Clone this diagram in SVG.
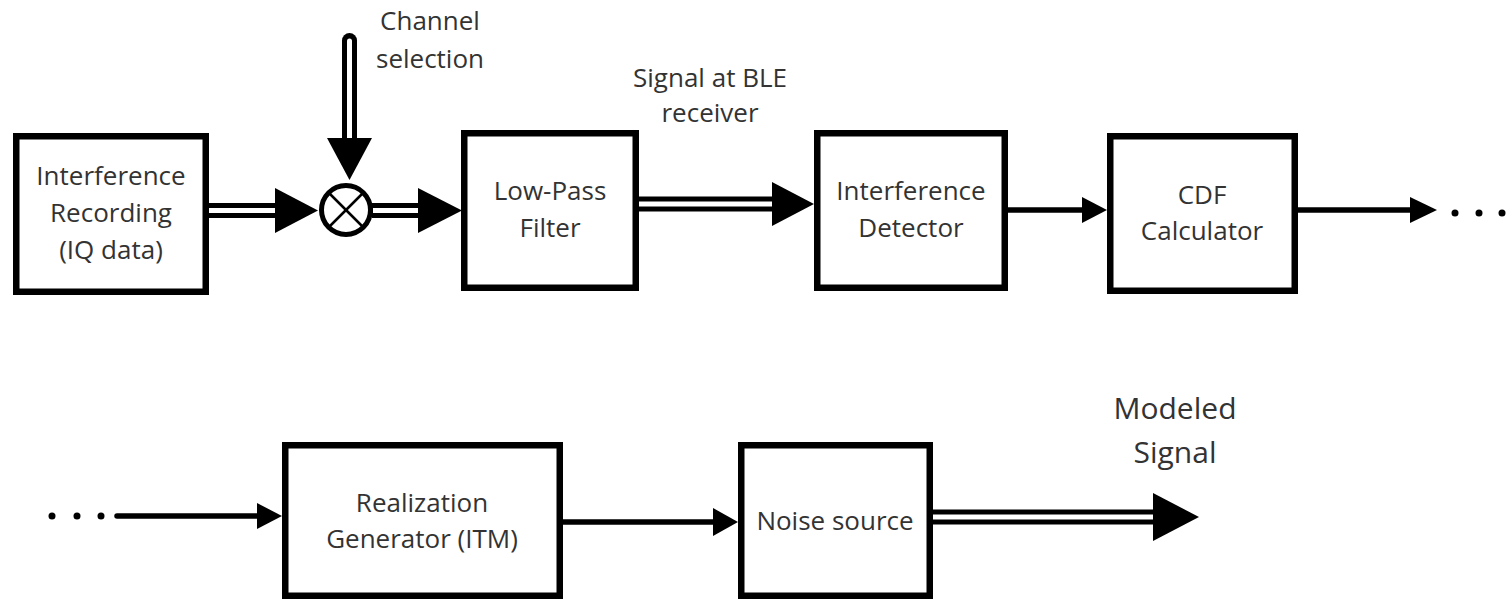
<svg xmlns="http://www.w3.org/2000/svg" width="1510" height="599" viewBox="0 0 1510 599">
  <style>
    .box { fill: #ffffff; stroke: #000000; stroke-width: 6.5; stroke-linejoin: miter; }
    .lbl { font-family: "Open Sans", "Liberation Sans", sans-serif; font-size: 26px; fill: #333333; text-anchor: middle; }
    .big { font-size: 30px; }
    .bus-outer { stroke: #000000; stroke-width: 15; fill: none; }
    .bus-inner { stroke: #ffffff; stroke-width: 5; fill: none; }
    .wire { stroke: #000000; stroke-width: 5.5; fill: none; }
    .head { fill: #000000; }
    .dot { fill: #000000; }
  </style>

  <rect width="1510" height="599" fill="#ffffff"/>

  <!-- signal paths -->
  <g id="connectors">
    <!-- recording to mixer (double line) -->
    <line class="bus-outer" x1="209" y1="210.5" x2="280" y2="210.5"/>
    <line class="bus-inner" x1="209" y1="210.5" x2="278" y2="210.5"/>
    <polygon class="head" points="275,188 318,210.5 275,233"/>

    <!-- channel selection into mixer -->
    <line class="bus-outer" x1="349.5" y1="40.5" x2="349.5" y2="142" stroke-linecap="round"/>
    <line class="bus-inner" x1="349.5" y1="41" x2="349.5" y2="140" stroke-linecap="round"/>
    <polygon class="head" points="327,138 372,138 349.5,180"/>

    <!-- mixer to low-pass filter -->
    <line class="bus-outer" x1="372" y1="210.5" x2="422" y2="210.5"/>
    <line class="bus-inner" x1="373" y1="210.5" x2="420" y2="210.5"/>
    <polygon class="head" points="418,188 462,210.5 418,233"/>

    <!-- filter to detector -->
    <line class="bus-outer" x1="639" y1="204" x2="776" y2="204"/>
    <line class="bus-inner" x1="639" y1="204" x2="774" y2="204"/>
    <polygon class="head" points="772,182 814,204 772,226"/>

    <!-- detector to CDF -->
    <line class="wire" x1="1008" y1="210" x2="1086" y2="210"/>
    <polygon class="head" points="1082,197 1107,210 1082,223"/>

    <!-- CDF output -->
    <line class="wire" x1="1298" y1="210" x2="1414" y2="210"/>
    <polygon class="head" points="1410,197 1437,210 1410,223"/>
    <circle class="dot" cx="1455" cy="213" r="3.5"/>
    <circle class="dot" cx="1479" cy="213" r="3.5"/>
    <circle class="dot" cx="1502" cy="213" r="3.5"/>

    <!-- continuation into realization generator -->
    <circle class="dot" cx="52" cy="516" r="3.5"/>
    <circle class="dot" cx="77" cy="516" r="3.5"/>
    <circle class="dot" cx="101" cy="516" r="3.5"/>
    <line class="wire" x1="117" y1="516" x2="261" y2="516" stroke-linecap="round"/>
    <polygon class="head" points="257,503 282,516 257,529"/>

    <!-- realization generator to noise source -->
    <line class="wire" x1="563" y1="522" x2="717" y2="522"/>
    <polygon class="head" points="713,508 738,522 713,536"/>

    <!-- modeled signal output (double line) -->
    <line class="bus-outer" x1="933" y1="517" x2="1157" y2="517"/>
    <line class="bus-inner" x1="933" y1="517" x2="1155" y2="517"/>
    <polygon class="head" points="1153,493 1199,517 1153,541"/>
  </g>

  <g id="recording">
    <rect class="box" x="16.25" y="136.25" width="189.5" height="155.5"/>
    <text class="lbl" x="111" y="185">Interference</text>
    <text class="lbl" x="111" y="222">Recording</text>
    <text class="lbl" x="111" y="259">(IQ data)</text>
  </g>

  <g id="mixer">
    <circle cx="346" cy="210" r="24.5" fill="#ffffff" stroke="#000000" stroke-width="5"/>
    <line x1="330" y1="194" x2="362" y2="226" stroke="#000000" stroke-width="2.5"/>
    <line x1="362" y1="194" x2="330" y2="226" stroke="#000000" stroke-width="2.5"/>
  </g>

  <g id="channel-selection">
    <text class="lbl" x="430" y="30">Channel</text>
    <text class="lbl" x="430" y="68">selection</text>
  </g>

  <g id="low-pass-filter">
    <rect class="box" x="464.25" y="133.25" width="171.5" height="154.5"/>
    <text class="lbl" x="550" y="200">Low-Pass</text>
    <text class="lbl" x="550" y="237">Filter</text>
  </g>

  <g id="ble-signal">
    <text class="lbl" x="710" y="87">Signal at BLE</text>
    <text class="lbl" x="710" y="122">receiver</text>
  </g>

  <g id="detector">
    <rect class="box" x="817.25" y="133.25" width="187.5" height="154.5"/>
    <text class="lbl" x="911" y="200">Interference</text>
    <text class="lbl" x="911" y="237">Detector</text>
  </g>

  <g id="cdf-calculator">
    <rect class="box" x="1110.25" y="136.25" width="184.5" height="154.5"/>
    <text class="lbl" x="1202" y="204">CDF</text>
    <text class="lbl" x="1202" y="240">Calculator</text>
  </g>

  <g id="realization-generator">
    <rect class="box" x="285.25" y="445.25" width="274.5" height="150.5"/>
    <text class="lbl" x="422" y="512">Realization</text>
    <text class="lbl" x="422" y="548">Generator (ITM)</text>
  </g>

  <g id="noise-source">
    <rect class="box" x="741.25" y="445.25" width="188.5" height="150.5"/>
    <text class="lbl" x="835" y="530">Noise source</text>
  </g>

  <g id="modeled-signal">
    <text class="lbl big" x="1175" y="419">Modeled</text>
    <text class="lbl big" x="1175" y="463">Signal</text>
  </g>
</svg>
